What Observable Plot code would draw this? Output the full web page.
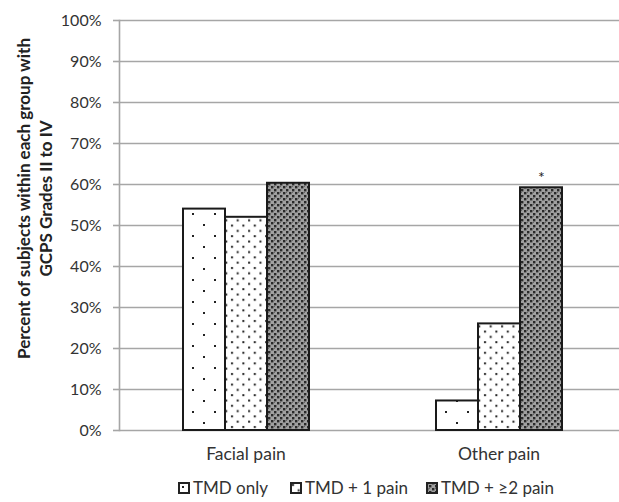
<!DOCTYPE html>
<html>
<head>
<meta charset="utf-8">
<script src="https://cdn.jsdelivr.net/npm/d3@7"></script>
<script src="https://cdn.jsdelivr.net/npm/@observablehq/plot@0.6"></script>
<style>
  body { margin: 0; background: #fff; font-family: Lato, "Open Sans", sans-serif; }
  #legend { position: relative; height: 32px; font-size: 17px; color: #333; }
  #legend .item { position: absolute; top: 7px; display: flex; align-items: center; white-space: nowrap; }
  #legend svg { margin-right: 3px; }
</style>
</head>
<body>
<div id="chart"></div>
<div id="legend"></div>
<script>
const categories = ["Facial pain", "Other pain"];
const series = ["TMD only", "TMD + 1 pain", "TMD + \u22652 pain"];
const facialPainValues = [54, 52, 60.3];
const otherPainValues = [7.2, 26, 59.2];
const otherPainMarks = ["", "", "*"];
const yTicks = [0, 10, 20, 30, 40, 50, 60, 70, 80, 90, 100];
const patternFills = ["url(#pDotsSparse)", "url(#pDotsDense)", "url(#pCheck)"];

const data = [];
series.forEach((s, i) => data.push({category: categories[0], series: s, value: facialPainValues[i], mark: ""}));
series.forEach((s, i) => data.push({category: categories[1], series: s, value: otherPainValues[i], mark: otherPainMarks[i]}));

const grid = "#a6a6a6";

const chart = Plot.plot({
  width: 619,
  height: 470,
  marginLeft: 118,
  marginRight: -6,
  marginTop: 20,
  marginBottom: 40,
  style: {fontFamily: "Lato, 'Open Sans', sans-serif", fontSize: "16px", color: "#333", background: "#fff", overflow: "visible"},
  fx: {domain: categories, padding: 0, label: null},
  x: {domain: series, paddingInner: 0, paddingOuter: 1.47, axis: null},
  y: {domain: [0, 100], label: null},
  color: {domain: series, range: patternFills},
  marks: [
    Plot.gridY(yTicks, {stroke: grid, strokeOpacity: 1, strokeWidth: 1.6}),
    Plot.barY(data, {fx: "category", x: "series", y: "value", fill: "series", stroke: "#1a1a1a", strokeWidth: 2, inset: 0}),
    Plot.text(data, {fx: "category", x: "series", y: "value", text: "mark", dy: -10, fontSize: 16, fill: "#222"}),
    Plot.axisY(yTicks, {tickFormat: d => d + "%", tickSize: 6, tickPadding: 12, stroke: grid, strokeWidth: 1.6, fill: "#333", fontSize: 16, label: null}),
    Plot.frame({anchor: "left", facetAnchor: "left", stroke: grid, strokeWidth: 1.6}),
    Plot.axisFx({anchor: "bottom", tickSize: 0, tickPadding: 17, fontSize: 17.5, fill: "#333", label: null}),
    Plot.text(["Percent of subjects within each group with", "GCPS Grades II to IV"], {
      frameAnchor: "top-left", facetAnchor: "left", text: d => d, rotate: -90,
      fontWeight: "bold", fontSize: 17, fill: "#222"
    })
  ]
});

// pattern definitions
const ns = "http://www.w3.org/2000/svg";
const defs = document.createElementNS(ns, "defs");
defs.innerHTML = `
  <pattern id="pDotsSparse" patternUnits="userSpaceOnUse" width="22" height="22">
    <rect width="22" height="22" fill="#fff"/>
    <rect x="4" y="4" width="2" height="2" fill="#222"/>
    <rect x="15" y="15" width="2" height="2" fill="#222"/>
  </pattern>
  <pattern id="pDotsDense" patternUnits="userSpaceOnUse" width="11.4" height="10.6">
    <rect width="11.4" height="10.6" fill="#fff"/>
    <rect x="2" y="2" width="2" height="2" fill="#222"/>
    <rect x="7.7" y="7.3" width="2" height="2" fill="#222"/>
  </pattern>
  <pattern id="pCheck" patternUnits="userSpaceOnUse" width="6" height="6">
    <rect width="6" height="6" fill="#a0a0a0"/>
    <rect x="0" y="0" width="2.4" height="2.4" fill="#2a2a2a"/>
    <rect x="3" y="3" width="2.4" height="2.4" fill="#2a2a2a"/>
    <rect x="3" y="0" width="1" height="1" fill="#666"/>
  </pattern>`;
chart.insertBefore(defs, chart.firstChild);
document.getElementById("chart").appendChild(chart);

// position the two-line rotated y-axis title
chart.querySelectorAll("g[aria-label='text'] text").forEach(t => {
  const s = t.textContent;
  if (s.startsWith("Percent") || s.startsWith("GCPS")) {
    t.setAttribute("transform", s.startsWith("Percent") ? "translate(28,198) rotate(-90)" : "translate(50,198) rotate(-90)");
    t.setAttribute("text-anchor", "middle");
    t.removeAttribute("x"); t.removeAttribute("y");
  }
});

// legend
const legendLefts = [178, 290, 426];
const legend = d3.select("#legend");
series.forEach((s, i) => {
  const item = legend.append("div").attr("class", "item").style("left", legendLefts[i] + "px");
  const sw = item.append("svg").attr("width", 12).attr("height", 12);
  sw.append("rect").attr("x", 1).attr("y", 1).attr("width", 10).attr("height", 10)
    .attr("fill", patternFills[i]).attr("stroke", "#222").attr("stroke-width", 2);
  item.append("span").text(s);
});
</script>
</body>
</html>
